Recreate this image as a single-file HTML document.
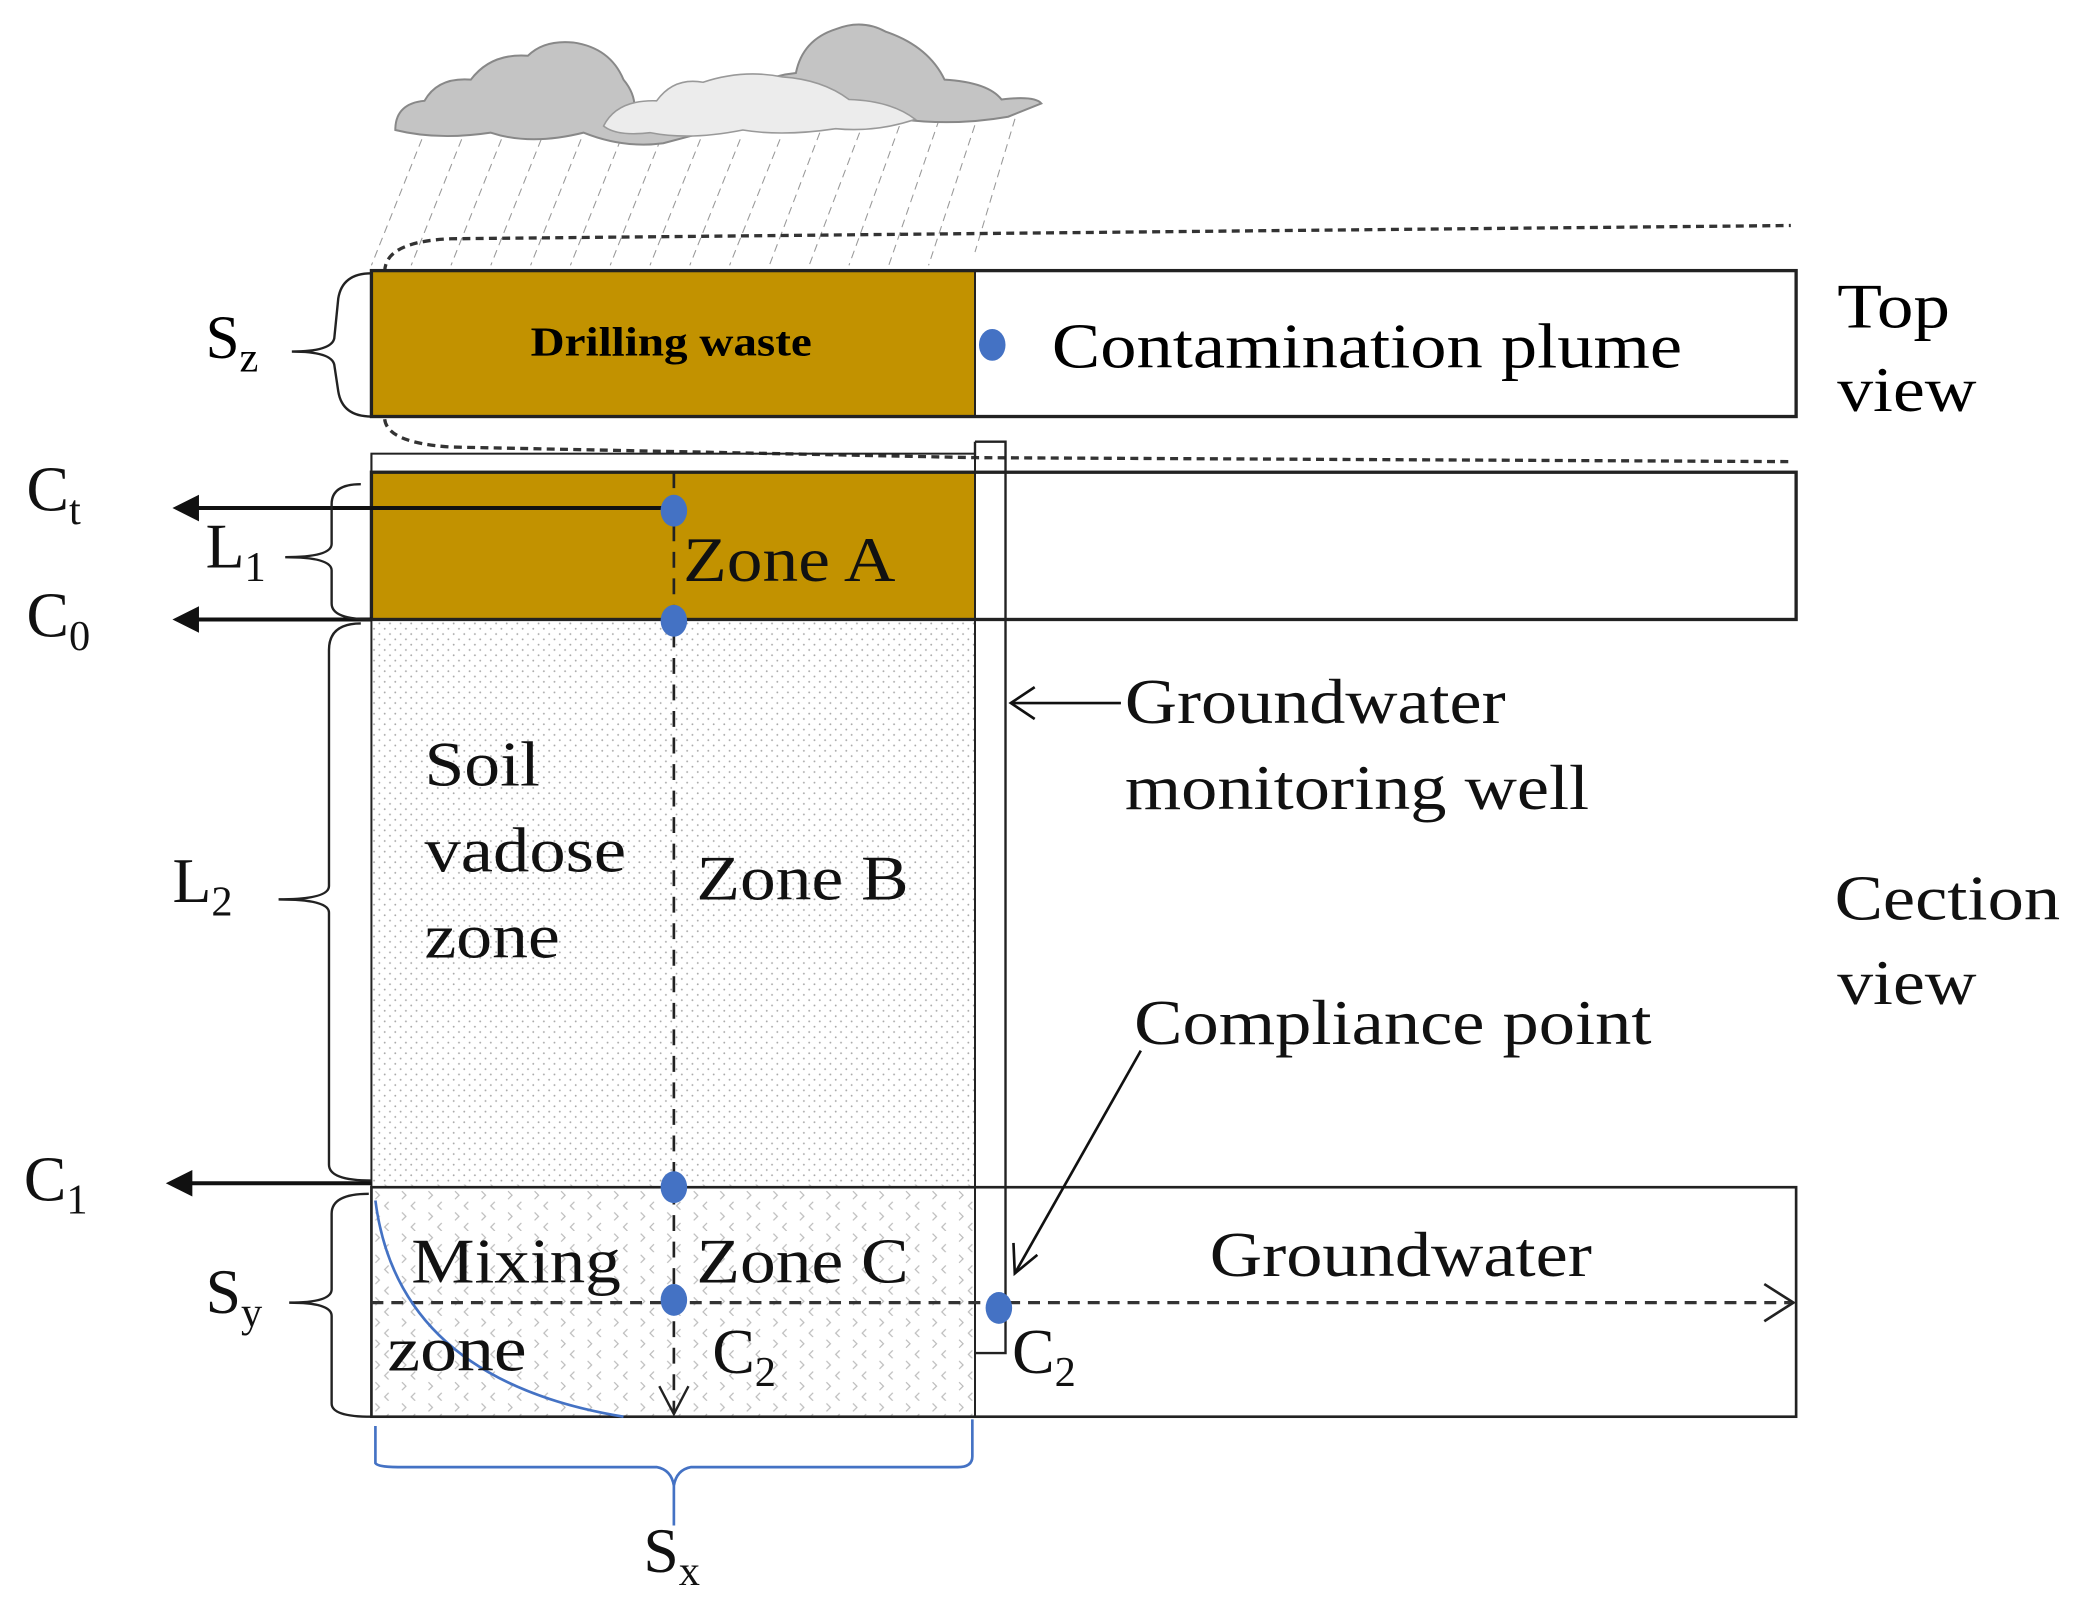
<!DOCTYPE html>
<html><head><meta charset="utf-8"><style>html,body{margin:0;padding:0;background:#fff}svg{display:block}</style></head>
<body>
<svg width="2080" height="1619" viewBox="0 0 1568 1220.5" preserveAspectRatio="none" xmlns="http://www.w3.org/2000/svg" font-family="'Liberation Serif', serif">
<defs>
<pattern id="dots" width="8" height="8" patternUnits="userSpaceOnUse">
<rect width="8" height="8" fill="#fff"/><circle cx="2" cy="2" r="0.7" fill="#aaa"/><circle cx="6" cy="6" r="0.7" fill="#aaa"/>
</pattern>
<pattern id="chev" width="20" height="16" patternUnits="userSpaceOnUse">
<rect width="20" height="16" fill="#fff"/><path d="M3 2 L6 5 L3 8 M13 10 L10 13 L13 16" stroke="#bbb" stroke-width="0.9" fill="none"/>
</pattern>
</defs>
<!-- rain -->
<g stroke="#999" stroke-width="0.8" stroke-dasharray="6,4">
<line x1="318" y1="105" x2="280" y2="200"/><line x1="348" y1="105" x2="310" y2="200"/>
<line x1="378" y1="105" x2="340" y2="200"/><line x1="408" y1="105" x2="370" y2="200"/>
<line x1="438" y1="105" x2="400" y2="200"/><line x1="468" y1="105" x2="430" y2="200"/>
<line x1="498" y1="105" x2="460" y2="200"/><line x1="528" y1="105" x2="490" y2="200"/>
<line x1="558" y1="105" x2="520" y2="200"/><line x1="588" y1="105" x2="550" y2="200"/>
<line x1="618" y1="100" x2="580" y2="200"/><line x1="648" y1="100" x2="610" y2="200"/>
<line x1="678" y1="95" x2="640" y2="200"/><line x1="708" y1="90" x2="670" y2="200"/>
<line x1="738" y1="85" x2="700" y2="200"/><line x1="768" y1="80" x2="735" y2="190"/>
</g>
<!-- clouds -->
<g fill="#c4c4c4" stroke="#888" stroke-width="1.5">
<path d="M298 98 Q298 78 320 76 Q330 58 355 60 Q370 40 398 42 Q410 30 432 32 Q460 36 470 60 Q480 72 478 85 Q505 70 520 88 L530 100 L500 108 Q470 112 440 100 Q400 110 370 100 Q330 106 298 98 Z"/>
<path d="M555 78 Q570 58 600 55 Q605 30 630 22 Q650 14 668 24 Q700 35 712 60 Q745 62 755 75 Q780 72 785 78 L760 88 Q720 95 680 90 L600 85 Z"/>
</g>
<path d="M455 95 Q465 75 495 76 Q508 58 530 62 Q560 52 590 58 Q620 60 640 75 Q672 76 690 90 Q660 100 630 97 Q590 103 560 98 Q520 106 490 100 Q465 103 455 95 Z" fill="#ececec" stroke="#999" stroke-width="1.2"/>
<!-- top dashed outlines -->
<path d="M290 205 Q290 182 340 180 L1350 170" fill="none" stroke="#333" stroke-width="2.5" stroke-dasharray="6,4"/>
<path d="M290 316 Q292 334 340 337 L735 345 L1350 348" fill="none" stroke="#333" stroke-width="2.5" stroke-dasharray="6,4"/>
<!-- top view -->
<rect x="280" y="204" width="455" height="110" fill="#c29200"/>
<rect x="280" y="204" width="1074" height="110" fill="none" stroke="#222" stroke-width="2.5"/>
<line x1="735" y1="204" x2="735" y2="314" stroke="#222" stroke-width="1.5"/>
<text x="400" y="268" font-size="31" font-weight="bold" textLength="212" lengthAdjust="spacingAndGlyphs">Drilling waste</text>
<ellipse cx="748" cy="260" rx="10" ry="12" fill="#4472c4"/>
<text x="793" y="277" font-size="48" textLength="475" lengthAdjust="spacingAndGlyphs">Contamination plume</text>
<path d="M280 206 Q258 206 255 225 L252 255 Q250 265 220 265 Q250 265 252 275 L255 295 Q258 314 280 314" fill="none" stroke="#222" stroke-width="1.8"/>
<text x="155" y="270" font-size="46">S<tspan font-size="32" dy="10">z</tspan></text>
<text x="1385" y="247" font-size="48" textLength="85" lengthAdjust="spacingAndGlyphs">Top</text>
<text x="1385" y="310" font-size="48" textLength="105" lengthAdjust="spacingAndGlyphs">view</text>
<!-- section -->
<rect x="280" y="342" width="455" height="14" fill="none" stroke="#222" stroke-width="1.5"/>
<rect x="280" y="356" width="455" height="111" fill="#c29200"/>
<rect x="280" y="467" width="455" height="426" fill="url(#dots)"/>
<rect x="280" y="893" width="455" height="175" fill="url(#chev)"/>
<rect x="280" y="356" width="1074" height="111" fill="none" stroke="#222" stroke-width="2.5"/>
<line x1="280" y1="342" x2="280" y2="1068" stroke="#222" stroke-width="1.5"/>
<line x1="735" y1="356" x2="735" y2="1068" stroke="#222" stroke-width="1.5"/>
<rect x="280" y="895" width="1074" height="173" fill="none" stroke="#222" stroke-width="2"/>
<!-- well -->
<path d="M735 333 L758 333 L758 1020 L735 1020" fill="none" stroke="#222" stroke-width="1.8"/>
<line x1="735" y1="333" x2="735" y2="345" stroke="#222" stroke-width="1.8"/>
<!-- vertical dashed -->
<line x1="508" y1="356" x2="508" y2="1066" stroke="#222" stroke-width="2" stroke-dasharray="12,8"/>
<path d="M497 1045 L508 1066 L519 1045" fill="none" stroke="#222" stroke-width="1.8"/>
<!-- horizontal dashed -->
<line x1="280" y1="982" x2="1350" y2="982" stroke="#333" stroke-width="2.5" stroke-dasharray="9,6"/>
<path d="M1330 968 L1352 982 L1330 996" fill="none" stroke="#222" stroke-width="2"/>
<!-- arrows -->
<g stroke="#111" stroke-width="3">
<line x1="508" y1="383" x2="145" y2="383"/><line x1="280" y1="467" x2="145" y2="467"/><line x1="280" y1="892" x2="140" y2="892"/>
</g>
<g fill="#111">
<path d="M130 383 L150 373 L150 393 Z"/><path d="M130 467 L150 457 L150 477 Z"/><path d="M125 892 L145 882 L145 902 Z"/>
</g>
<!-- dots -->
<g fill="#4472c4">
<ellipse cx="508" cy="385" rx="10" ry="12"/><ellipse cx="508" cy="468" rx="10" ry="12"/>
<ellipse cx="508" cy="895" rx="10" ry="12"/><ellipse cx="508" cy="980" rx="10" ry="12"/>
<ellipse cx="753" cy="986" rx="10" ry="12"/>
</g>
<!-- braces -->
<g fill="none" stroke="#222" stroke-width="1.8">
<path d="M272 365 Q250 365 250 380 L250 410 Q250 420 215 420 Q250 420 250 430 L250 455 Q250 467 280 467"/>
<path d="M272 470 Q248 470 248 490 L248 668 Q248 678 210 678 Q248 678 248 688 L248 878 Q248 890 280 890"/>
<path d="M278 900 Q250 900 250 915 L250 972 Q250 982 218 982 Q250 982 250 992 L250 1058 Q250 1068 280 1068"/>
</g>
<path d="M283 1075 L283 1103 Q285 1106 300 1106 L495 1106 Q506 1108 508 1120 L508 1150 M508 1120 Q510 1108 521 1106 L722 1106 Q733 1106 733 1098 L733 1070" fill="none" stroke="#4472c4" stroke-width="2"/>
<path d="M283 905 Q300 1040 470 1068" fill="none" stroke="#4472c4" stroke-width="2"/>
<!-- labels -->
<g font-size="48" fill="#111" lengthAdjust="spacingAndGlyphs">
<text x="20" y="385">C<tspan font-size="32" dy="10">t</tspan></text>
<text x="155" y="428">L<tspan font-size="32" dy="10">1</tspan></text>
<text x="20" y="480">C<tspan font-size="32" dy="10">0</tspan></text>
<text x="130" y="680">L<tspan font-size="32" dy="10">2</tspan></text>
<text x="18" y="905">C<tspan font-size="32" dy="10">1</tspan></text>
<text x="155" y="990">S<tspan font-size="32" dy="10">y</tspan></text>
<text x="485" y="1185">S<tspan font-size="32" dy="10">x</tspan></text>
<text x="515" y="438" textLength="160" lengthAdjust="spacingAndGlyphs">Zone A</text>
<text x="320" y="592" textLength="87" lengthAdjust="spacingAndGlyphs">Soil</text>
<text x="320" y="657" textLength="152" lengthAdjust="spacingAndGlyphs">vadose</text>
<text x="320" y="722" textLength="102" lengthAdjust="spacingAndGlyphs">zone</text>
<text x="525" y="678" textLength="160" lengthAdjust="spacingAndGlyphs">Zone B</text>
<text x="310" y="967" textLength="158" lengthAdjust="spacingAndGlyphs">Mixing</text>
<text x="292" y="1033" textLength="105" lengthAdjust="spacingAndGlyphs">zone</text>
<text x="525" y="967" textLength="160" lengthAdjust="spacingAndGlyphs">Zone C</text>
<text x="537" y="1035">C<tspan font-size="32" dy="10">2</tspan></text>
<text x="763" y="1035">C<tspan font-size="32" dy="10">2</tspan></text>
<text x="912" y="962" textLength="288" lengthAdjust="spacingAndGlyphs">Groundwater</text>
<text x="848" y="545" textLength="287" lengthAdjust="spacingAndGlyphs">Groundwater</text>
<text x="848" y="610" textLength="350" lengthAdjust="spacingAndGlyphs">monitoring well</text>
<text x="855" y="787" textLength="390" lengthAdjust="spacingAndGlyphs">Compliance point</text>
<text x="1383" y="693" textLength="170" lengthAdjust="spacingAndGlyphs">Cection</text>
<text x="1385" y="757" textLength="105" lengthAdjust="spacingAndGlyphs">view</text>
</g>
<g fill="none" stroke="#111" stroke-width="2">
<line x1="845" y1="530" x2="762" y2="530"/><path d="M780 518 L762 530 L780 542"/>
<line x1="860" y1="792" x2="765" y2="960"/><path d="M764 937 L765 960 L782 946"/>
</g>
</svg>
</body></html>
